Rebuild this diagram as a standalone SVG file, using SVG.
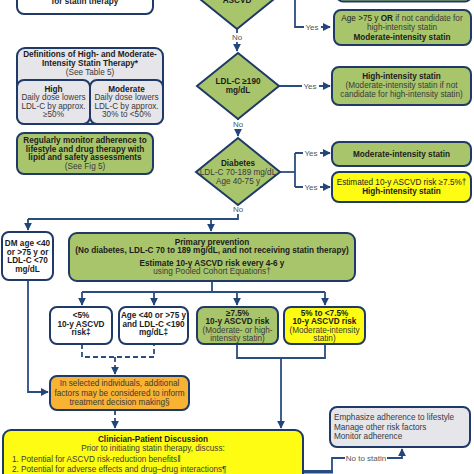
<svg xmlns="http://www.w3.org/2000/svg" width="474" height="474" viewBox="0 0 474 474">
<defs>
<marker id="ah" viewBox="0 0 10 10" refX="9" refY="5" markerWidth="4.2" markerHeight="4.2" orient="auto" markerUnits="userSpaceOnUse">
<path d="M0,0 L10,5 L0,10 z" fill="#22457a"/>
</marker>
<marker id="ahb" viewBox="0 0 10 10" refX="9" refY="5" markerWidth="8" markerHeight="8" orient="auto" markerUnits="userSpaceOnUse">
<path d="M0,0 L10,5 L0,10 z" fill="#22457a"/>
</marker>
<style>
text{font-family:"Liberation Sans",Arial,sans-serif;font-size:8.2px;text-anchor:middle;fill:#1c1c1c}
.b{font-weight:bold}
.n{fill:#3a3a3a}
.l{fill:#555;font-size:8px}
.s{text-anchor:start}
.box{stroke:#1f3a66;stroke-width:2}
.g{fill:#a8c56c}
.w{fill:#ffffff}
.y{fill:#fdfc12}
.o{fill:#f8b234}
.gr{fill:#e5e5ea}
.c{fill:none;stroke:#2a4d80;stroke-width:1.8}
.d{stroke-dasharray:5,3}
.bg{fill:#fff}
</style>
</defs>
<rect width="474" height="474" fill="#fff"/>

<g id="connectors">
<path class="c" d="M279,-5 H295 V27 H330" marker-end="url(#ahb)"/>
<path class="c" d="M237,29 V51" marker-end="url(#ahb)"/>
<path class="c" d="M279,86 H330" marker-end="url(#ahb)"/>
<path class="c" d="M238,119 V136" marker-end="url(#ahb)"/>
<path class="c" d="M280,172 H295"/>
<path class="c" d="M295,153 V187"/>
<path class="c" d="M295,153 H330" marker-end="url(#ahb)"/>
<path class="c" d="M295,187 H330" marker-end="url(#ahb)"/>
<path class="c" d="M238,205 V219 H28"/>
<path class="c" d="M28,219 V230" marker-end="url(#ahb)"/>
<path class="c" d="M211,219 V231" marker-end="url(#ahb)"/>
<path class="c" d="M212,281 V292"/>
<path class="c" d="M82,292 H325"/>
<path class="c" d="M82,292 V305" marker-end="url(#ahb)"/>
<path class="c" d="M154,292 V305" marker-end="url(#ahb)"/>
<path class="c" d="M237,292 V305" marker-end="url(#ahb)"/>
<path class="c" d="M325,292 V305" marker-end="url(#ahb)"/>
<path class="c" d="M28,280 V392 H48" marker-end="url(#ahb)"/>
<path class="c d" d="M82,344 V357 H154 V344"/>
<path class="c d" d="M115,357 V374" marker-end="url(#ahb)"/>
<path class="c" d="M237,344 V358 H325 V344"/>
<path class="c" d="M281,358 V428" marker-end="url(#ahb)"/>
<path class="c d" d="M115,410 V428" marker-end="url(#ahb)"/>
<path class="c" d="M303,471 H332 V458 H402 V449" marker-end="url(#ahb)"/>
<path d="M303,472 H333" stroke="#2a4d80" stroke-width="3" fill="none"/>
<rect class="bg" x="230" y="33" width="14" height="9"/>
<text class="l" x="237" y="40">No</text>
<rect class="bg" x="231" y="120" width="14" height="9"/>
<text class="l" x="238" y="127">No</text>
<rect class="bg" x="231" y="205" width="14" height="9"/>
<text class="l" x="238" y="212">No</text>
<rect class="bg" x="304" y="22" width="17" height="9"/>
<text class="l" x="312" y="29.5">Yes</text>
<rect class="bg" x="302" y="81" width="17" height="9"/>
<text class="l" x="310" y="88.5">Yes</text>
<rect class="bg" x="303" y="148" width="17" height="9"/>
<text class="l" x="311" y="155.5">Yes</text>
<rect class="bg" x="303" y="182" width="17" height="9"/>
<text class="l" x="311" y="189.5">Yes</text>
<rect class="bg" x="345" y="453" width="42" height="9"/>
<text class="l" x="366" y="460.5">No to statin</text>
</g>

<g id="n-top-left">
<rect class="box w" x="17" y="-30" width="136" height="44" rx="7"/>
<text class="b" x="85" y="4">for statin therapy</text>
</g>

<g id="n-top-diamond">
<path class="box g" d="M237,-39 L279,-5 L237,29 L195,-5 z"/>
<text class="b" x="237" y="3">ASCVD</text>
</g>

<g id="n-top-right">
<rect class="box g" x="337" y="-30" width="134" height="31.5" rx="6"/>
</g>

<g id="n-age75">
<rect class="box g" x="334" y="10" width="137" height="35" rx="7"/>
<text x="402" y="21">Age &gt;75 y <tspan class="b">OR</tspan> <tspan class="n">if not candidate for</tspan></text>
<text class="n" x="402" y="30">high-intensity statin</text>
<text class="b" x="402" y="39.5">Moderate-intensity statin</text>
</g>

<g id="n-definitions">
<rect class="box gr" x="17" y="48" width="146" height="76" rx="8"/>
<text class="b" x="90" y="56.5">Definitions of High- and Moderate-</text>
<text class="b" x="90" y="65.5">Intensity Statin Therapy*</text>
<text class="n" x="90" y="75">(See Table 5)</text>
</g>
<g id="n-high">
<rect class="box gr" x="17" y="80" width="73" height="44" rx="7"/>
<text class="b" x="53.5" y="91.5">High</text>
<text class="n" x="53.5" y="100">Daily dose lowers</text>
<text class="n" x="53.5" y="108.5">LDL-C by approx.</text>
<text class="n" x="53.5" y="117">≥50%</text>
</g>
<g id="n-moderate">
<rect class="box gr" x="90" y="80" width="73" height="44" rx="7"/>
<text class="b" x="126.5" y="91.5">Moderate</text>
<text class="n" x="126.5" y="100">Daily dose lowers</text>
<text class="n" x="126.5" y="108.5">LDL-C by approx.</text>
<text class="n" x="126.5" y="117">30% to &lt;50%</text>
</g>

<g id="n-ldl190">
<path class="box g" d="M238,53 L279,86 L238,119 L197,86 z"/>
<text class="b" x="238" y="84">LDL-C ≥190</text>
<text class="b" x="238" y="93">mg/dL</text>
</g>

<g id="n-high-intensity">
<rect class="box g" x="332" y="67" width="139" height="38" rx="7"/>
<text class="b" x="401.5" y="79">High-intensity statin</text>
<text class="n" x="401.5" y="88">(Moderate-intensity statin if not</text>
<text class="n" x="401.5" y="97">candidate for high-intensity statin)</text>
</g>

<g id="n-monitor">
<rect class="box g" x="17" y="133" width="136" height="41" rx="7"/>
<text class="b" x="85" y="143">Regularly monitor adherence to</text>
<text class="b" x="85" y="151.5">lifestyle and drug therapy with</text>
<text class="b" x="85" y="160">lipid and safety assessments</text>
<text class="n" x="85" y="168.5">(See Fig 5)</text>
</g>

<g id="n-diabetes">
<path class="box g" d="M238,138 L280,172 L238,205 L196,172 z"/>
<text class="b" x="238" y="166">Diabetes</text>
<text class="n" x="238" y="175">LDL-C 70-189 mg/dL</text>
<text class="n" x="238" y="183.5">Age 40-75 y</text>
</g>

<g id="n-moderate-statin">
<rect class="box g" x="332" y="142" width="139" height="24" rx="7"/>
<text class="b" x="401.5" y="156.5">Moderate-intensity statin</text>
</g>

<g id="n-estimated">
<rect class="box y" x="332" y="172" width="139" height="30" rx="7"/>
<text x="401.5" y="184.5">Estimated 10-y ASCVD risk ≥7.5%†</text>
<text class="b" x="401.5" y="193.5">High-intensity statin</text>
</g>

<g id="n-dm">
<rect class="box w" x="2" y="232" width="51" height="48" rx="7"/>
<text class="b" x="27.5" y="246">DM age &lt;40</text>
<text class="b" x="27.5" y="254.5">or &gt;75 y or</text>
<text class="b" x="27.5" y="263">LDL-C &lt;70</text>
<text class="b" x="27.5" y="271.5">mg/dL</text>
</g>

<g id="n-primary">
<rect class="box g" x="69" y="233" width="286" height="48" rx="8"/>
<text class="b" x="212" y="244.5">Primary prevention</text>
<text class="b" x="212" y="252.5">(No diabetes, LDL-C 70 to 189 mg/dL, and not receiving statin therapy)</text>
<text class="b" x="212" y="265.5">Estimate 10-y ASCVD risk every 4-6 y</text>
<text class="n" x="212" y="273.5">using Pooled Cohort Equations†</text>
</g>

<g id="n-lt5">
<rect class="box w" x="50" y="307" width="62" height="37" rx="7"/>
<text class="b" x="81" y="318">&lt;5%</text>
<text class="b" x="81" y="326.5">10-y ASCVD</text>
<text class="b" x="81" y="335">risk‡</text>
</g>

<g id="n-age40">
<rect class="box w" x="119" y="307" width="69" height="37" rx="7"/>
<text class="b" x="153.5" y="318">Age &lt;40 or &gt;75 y</text>
<text class="b" x="153.5" y="326.5">and LDL-C &lt;190</text>
<text class="b" x="153.5" y="335">mg/dL‡</text>
</g>

<g id="n-ge75">
<rect class="box g" x="197" y="307" width="81" height="37" rx="7"/>
<text class="b" x="237.5" y="315.5">≥7.5%</text>
<text class="b" x="237.5" y="324">10-y ASCVD risk</text>
<text class="n" x="237.5" y="332.5">(Moderate- or high-</text>
<text class="n" x="237.5" y="341">intensity statin)</text>
</g>

<g id="n-5to75">
<rect class="box y" x="284" y="307" width="81" height="37" rx="7"/>
<text class="b" x="324.5" y="315.5">5% to &lt;7.5%</text>
<text class="b" x="324.5" y="324">10-y ASCVD risk</text>
<text class="n" x="324.5" y="332.5">(Moderate-intensity</text>
<text class="n" x="324.5" y="341">statin)</text>
</g>

<g id="n-selected">
<rect class="box o" x="50" y="376" width="139" height="34" rx="7"/>
<text class="n" x="119.5" y="386">In selected individuals, additional</text>
<text class="n" x="119.5" y="395.5">factors may be considered to inform</text>
<text class="n" x="119.5" y="405">treatment decision making§</text>
</g>

<g id="n-clinician">
<rect class="box y" x="3" y="430" width="300" height="60" rx="8"/>
<text class="b" x="153" y="441.5">Clinician-Patient Discussion</text>
<text class="n" x="153" y="451">Prior to initiating statin therapy, discuss:</text>
<text class="n s" x="12" y="462">1. Potential for ASCVD risk-reduction benefits‖</text>
<text class="n s" x="12" y="471.5">2. Potential for adverse effects and drug–drug interactions¶</text>
</g>

<g id="n-emphasize">
<rect class="box gr" x="330" y="407" width="140" height="40" rx="7"/>
<text class="n s" x="334" y="420">Emphasize adherence to lifestyle</text>
<text class="n s" x="334" y="429.5">Manage other risk factors</text>
<text class="n s" x="334" y="439">Monitor adherence</text>
</g>
</svg>
